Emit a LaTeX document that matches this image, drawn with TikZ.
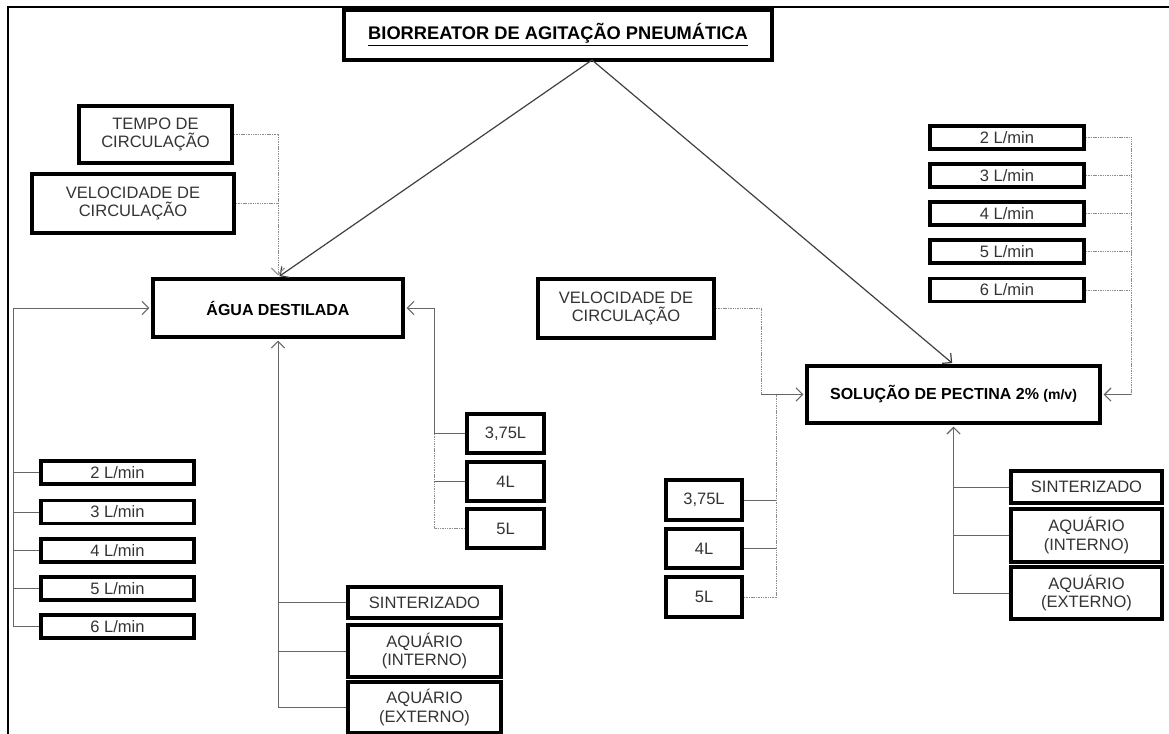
\documentclass[tikz,border=0pt]{standalone}
\usepackage{fontspec}
\setmainfont{Liberation Sans}
\usetikzlibrary{arrows.meta}
\begin{document}
\begin{tikzpicture}[x=0.75pt,y=-0.75pt,
  sz/.style 2 args={minimum width=#1*0.75pt,minimum height=#2*0.75pt},
  box/.style={draw=black,line width=2.7pt,inner sep=0pt,align=center,
    font=\fontsize{12.4}{13.8}\selectfont,text=black!80},
  bbox/.style={box,font=\fontsize{12}{14}\selectfont\bfseries,text=black},
  conn/.style={draw=black!60,line width=0.75pt},
  dconn/.style={draw=black!45,line width=0.75pt,dash pattern=on 0.8pt off 0.5pt},
  diag/.style={draw=black!75,line width=0.9pt},
  arr/.style={-{Straight Barb[length=5pt,width=10pt,line width=0.9pt]},shorten >=1.3pt},
  frame/.style={draw=black,line width=1.1pt}]
\useasboundingbox (0,0) rectangle (1169,734);
% frame
\coordinate (fa) at (8,734);
\coordinate (fb) at (8,7);
\coordinate (fc) at (1169,7);
\draw[frame] (fa) -- (fb) -- (fc);

% main nodes
\node[bbox,sz={428}{50},font=\fontsize{13.7}{15}\selectfont\bfseries] (bio) at (558,35) {\underline{BIORREATOR DE AGITAÇÃO PNEUMÁTICA}};
\node[box,sz={153}{57}] (tempo) at (155.5,134.5) {TEMPO DE\\CIRCULAÇÃO};
\node[box,sz={202}{59}] (vel1) at (133,203.5) {VELOCIDADE DE\\CIRCULAÇÃO};
\node[bbox,sz={250}{58}] (agua) at (278,308) {ÁGUA DESTILADA};
\node[box,sz={176}{59}] (vel2) at (626,308.5) {VELOCIDADE DE\\CIRCULAÇÃO};
\node[bbox,sz={293}{57}] (sol) at (953.5,394.5) {SOLUÇÃO DE PECTINA 2\% {\fontsize{10.5}{12}\selectfont (m/v)}};

% right flow rates
\node[box,sz={154}{23}] (r1) at (1007,137.5) {2 L/min};
\node[box,sz={154}{23}] (r2) at (1007,175.5) {3 L/min};
\node[box,sz={154}{23}] (r3) at (1007,213.5) {4 L/min};
\node[box,sz={154}{23}] (r4) at (1007,251.5) {5 L/min};
\node[box,sz={154}{23}] (r5) at (1007,290) {6 L/min};

% left flow rates
\node[box,sz={153}{23}] (l1) at (117.5,472.5) {2 L/min};
\node[box,sz={153}{23}] (l2) at (117.5,512) {3 L/min};
\node[box,sz={153}{23}] (l3) at (117.5,550.5) {4 L/min};
\node[box,sz={153}{23}] (l4) at (117.5,588.5) {5 L/min};
\node[box,sz={153}{23}] (l5) at (117.5,626.5) {6 L/min};

% left volumes
\node[box,sz={77}{39}] (v1) at (505.5,433.5) {3,75L};
\node[box,sz={77}{39}] (v2) at (505.5,481.5) {4L};
\node[box,sz={77}{39}] (v3) at (505.5,528.5) {5L};

% middle volumes
\node[box,sz={76}{40}] (w1) at (704,500) {3,75L};
\node[box,sz={76}{39}] (w2) at (704,548.5) {4L};
\node[box,sz={76}{40}] (w3) at (704,597) {5L};

% left materials
\node[box,sz={153}{31}] (m1) at (424.5,602.5) {SINTERIZADO};
\node[box,sz={153}{52}] (m2) at (424.5,651) {AQUÁRIO\\(INTERNO)};
\node[box,sz={153}{51}] (m3) at (424.5,707.5) {AQUÁRIO\\(EXTERNO)};

% right materials
\node[box,sz={151}{32}] (s1) at (1086.5,487) {SINTERIZADO};
\node[box,sz={151}{53}] (s2) at (1086.5,535.5) {AQUÁRIO\\(INTERNO)};
\node[box,sz={151}{52}] (s3) at (1086.5,593) {AQUÁRIO\\(EXTERNO)};

% diagonals from bioreactor
\coordinate (bo) at (592,60);
\draw[diag,arr] (bo) -- (agua.north);
\draw[diag,arr] (bo) -- (sol.north);

% tempo / velocidade into agua
\draw[dconn,arr] (tempo.east) -| (agua.north);
\draw[dconn] (vel1.east) -- (vel1.east -| agua.north);

% left flow rates into agua
\coordinate (lx) at (13,0);
\draw[conn,arr] (l5.west) -- (l5.west -| lx) |- (agua.west);
\foreach \n in {l1,l2,l3,l4}{\draw[conn] (\n.west) -- (\n.west -| lx);}

% left volumes into agua
\coordinate (rx) at (434,0);
\draw[dconn] (v3.west) -| (v1.west -| rx);
\draw[conn,arr] (v1.west) -- (v1.west -| rx) |- (agua.east);
\draw[conn] (v2.west) -- (v2.west -| rx);

% left materials into agua
\draw[conn,arr] (m3.west) -| (agua.south);
\draw[conn] (m1.west) -- (m1.west -| agua.south);
\draw[conn] (m2.west) -- (m2.west -| agua.south);

% velocidade 2 into solucao
\coordinate (vx) at (761,0);
\draw[dconn] (vel2.east) -| (vx |- sol.west);
\draw[conn,arr] (vx |- sol.west) -- (sol.west);

% middle volumes into solucao
\coordinate (mx) at (776,0);
\draw[dconn] (w3.east) -| (mx |- sol.west);
\draw[conn] (w1.east) -- (w1.east -| mx);
\draw[conn] (w2.east) -- (w2.east -| mx);

% right flow rates into solucao
\coordinate (qx) at (1131,0);
\draw[dconn] (r1.east) -| (qx |- sol.east);
\draw[conn,arr] (qx |- sol.east) -- (sol.east);
\foreach \n in {r2,r3,r4,r5}{\draw[dconn] (\n.east) -- (\n.east -| qx);}

% right materials into solucao
\draw[conn,arr] (s3.west) -| (sol.south);
\draw[conn] (s1.west) -- (s1.west -| sol.south);
\draw[conn] (s2.west) -- (s2.west -| sol.south);
\end{tikzpicture}
\end{document}
